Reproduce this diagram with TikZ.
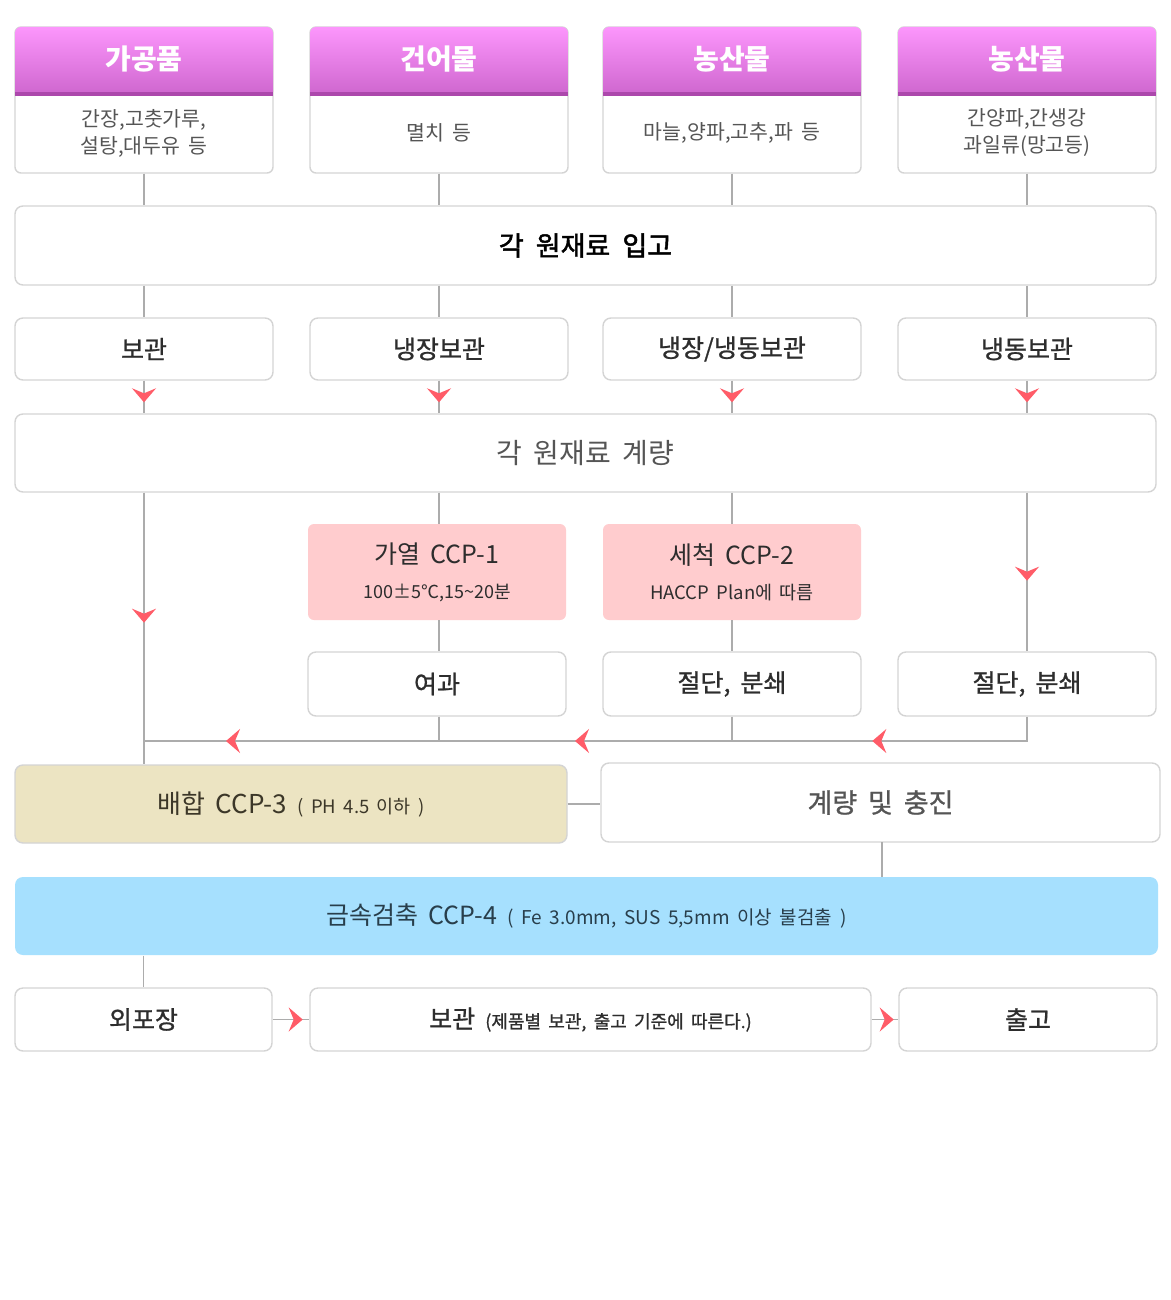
\documentclass[tikz,border=0pt]{standalone}
\usepackage{fontspec}
\setmainfont{Noto Sans CJK KR}[WordSpace=1.8]
\newfontfamily\medfont{Noto Sans CJK KR}[WordSpace=1.8,FakeBold=0.9]
\newfontfamily\semfont{Noto Sans CJK KR}[WordSpace=2.0,FakeBold=1.8]
\usetikzlibrary{arrows.meta,decorations.markings}
\definecolor{bordc}{RGB}{212,212,212}
\definecolor{linec}{RGB}{172,172,172}
\definecolor{arrred}{RGB}{255,92,104}
\definecolor{pinkc}{RGB}{255,204,206}
\definecolor{beigec}{RGB}{236,228,194}
\definecolor{bluec}{RGB}{166,224,254}
\definecolor{hdtop}{RGB}{252,150,252}
\definecolor{hdbot}{RGB}{208,104,208}
\definecolor{hdline}{RGB}{172,72,172}
\definecolor{txtd}{RGB}{45,45,45}
\definecolor{txtg}{RGB}{85,85,85}
\tikzset{
  tipR/.tip={Stealth[length=14pt,width=24pt,inset=5pt,color=arrred]},
  conn/.style={draw=linec,line width=1.3pt},
  arrat/.style={postaction={decorate},decoration={markings,mark=at position #1 with {\arrow{tipR}}}},
  card/.style={draw=bordc,line width=1.4pt,fill=white,rounded corners=6pt,inner sep=0pt},
  box/.style={draw=bordc,line width=1.4pt,fill=white,rounded corners=8pt,inner sep=0pt,align=center,text=txtd,font=\medfont\fontsize{25}{28}\selectfont},
  hdtxt/.style={text=white,font=\bfseries\fontsize{28}{30}\selectfont},
  bodytxt/.style={text=txtg,align=center,font=\fontsize{20.5}{27}\selectfont},
  ccpbox/.style={fill=pinkc,rounded corners=6pt,inner sep=0pt,align=center,text=txtd,minimum width=258pt,minimum height=96pt,font=\fontsize{25}{35}\selectfont},
}
\begin{document}
\begin{tikzpicture}[x=1pt,y=-1pt]
\useasboundingbox (0,0) rectangle (1170,1300);
\fill[white] (0,0) rectangle (1170,1300);

% header cards
\foreach \n/\cx in {1/144,2/439,3/732,4/1027}{
  \node[card,minimum width=258pt,minimum height=146pt] (c\n) at (\cx,100) {};
  \begin{scope}
    \clip[rounded corners=6pt] (\cx-129,27) rectangle (\cx+129,173);
    \shade[top color=hdtop,bottom color=hdbot] (\cx-129,27) rectangle (\cx+129,92);
    \fill[hdline] (\cx-129,92) rectangle (\cx+129,96);
  \end{scope}
}
\node[hdtxt] (h1) at (144,59) {가공품};
\node[hdtxt] (h2) at (439,59) {건어물};
\node[hdtxt] (h3) at (732,59) {농산물};
\node[hdtxt] (h4) at (1027,59) {농산물};
\node[bodytxt] (t1) at (144,133) {간장,고춧가루,\\설탕,대두유 등};
\node[bodytxt] (t2) at (439,133) {멸치 등};
\node[bodytxt] (t3) at (732,133) {마늘,양파,고추,파 등};
\node[bodytxt] (t4) at (1027,133) {간양파,간생강\\과일류(망고등)};

% 입고
\node[box,minimum width=1141pt,minimum height=79pt,font=\semfont\fontsize{27}{30}\selectfont,text=black] (in) at (585.5,245.5) {각 원재료 입고};

% storage row
\node[box,minimum width=258pt,minimum height=62pt] (r1) at (144,349) {보관};
\node[box,minimum width=258pt,minimum height=62pt] (r2) at (439,349) {냉장보관};
\node[box,minimum width=258pt,minimum height=62pt] (r3) at (732,349) {냉장/냉동보관};
\node[box,minimum width=258pt,minimum height=62pt] (r4) at (1027,349) {냉동보관};

% 계량
\node[box,minimum width=1141pt,minimum height=78pt,text=txtg,font=\fontsize{28}{30}\selectfont] (gy) at (585.5,453) {각 원재료 계량};

% CCP boxes
\node[ccpbox] (ccp1) at (437,572) {가열 CCP-1\\{\fontsize{18}{35}\selectfont 100±5℃,15\textasciitilde20분}};
\node[ccpbox] (ccp2) at (732,572) {세척 CCP-2\\{\fontsize{18.5}{35}\selectfont HACCP Plan에 따름}};

\node[box,minimum width=258pt,minimum height=64pt] (yg) at (437,684) {여과};
\node[box,minimum width=258pt,minimum height=64pt] (ct2) at (732,684) {절단, 분쇄};
\node[box,minimum width=258pt,minimum height=64pt] (ct4) at (1027,684) {절단, 분쇄};

% 배합 / 계량 및 충진
\node[box,font=\fontsize{26}{28}\selectfont,fill=beigec,minimum width=552pt,minimum height=78pt,text={rgb,255:red,60;green,55;blue,40}] (mix) at (291,804) {배합 CCP-3 {\fontsize{18.5}{20}\selectfont ( PH 4.5 이하 )}};
\node[box,minimum width=559pt,minimum height=79pt,text=txtg,font=\medfont\fontsize{27}{30}\selectfont] (fill) at (880.5,802.5) {계량 및 충진};

% 금속검출
\node[box,font=\fontsize{25}{28}\selectfont,draw=none,fill=bluec,minimum width=1143pt,minimum height=78pt,text={rgb,255:red,40;green,62;blue,75}] (metal) at (586.5,916) {금속검축 CCP-4 {\fontsize{19}{20}\selectfont ( Fe 3.0mm, SUS 5,5mm 이상 불검출 )}};

% bottom row
\node[box,minimum width=257pt,minimum height=63pt] (wp) at (143.5,1019.5) {외포장};
\node[box,minimum width=561pt,minimum height=63pt] (bg) at (590.5,1019.5) {보관 {\fontsize{18}{20}\selectfont (제품별 보관, 출고 기준에 따른다.)}};
\node[box,minimum width=258pt,minimum height=63pt] (out) at (1028,1019.5) {출고};

% junctions
\coordinate (j1) at (143,741);
\coordinate (j2) at (439,741);
\coordinate (j3) at (732,741);

% connectors
\foreach \n in {1,2,3,4}{
  \draw[conn] (c\n.south) -- (c\n.south |- in.north);
  \draw[conn] (c\n.south |- in.south) -- (r\n.north);
  \draw[conn,arrat=-11pt] (r\n.south) -- (r\n.south |- gy.north);
}
\draw[conn,arrat=130pt] (r1.south |- gy.south) -- (r1.south |- mix.north);
\draw[conn] (r2.south |- gy.south) -- (r2.south |- ccp1.north);
\draw[conn] (r3.south |- gy.south) -- (r3.south |- ccp2.north);
\draw[conn,arrat=88pt] (r4.south |- gy.south) -- (r4.south |- ct4.north);
\draw[conn] (r2.south |- ccp1.south) -- (r2.south |- yg.north);
\draw[conn] (r3.south |- ccp2.south) -- (r3.south |- ct2.north);
\draw[conn] (r2.south |- yg.south) -- (j2);
\draw[conn] (ct2.south) -- (j3);
\draw[conn,arrat=179pt] (ct4.south) |- (j3);
\draw[conn,arrat=157pt] (j3) -- (j2);
\draw[conn,arrat=213pt] (j2) -- (j1);
\draw[conn] (mix.east) -- (mix.east -| fill.west);
\draw[conn] (882,842) -- (882,877);
\draw[conn] (wp.north |- metal.south) -- (wp.north);
\draw[conn,arrat=30pt] (wp.east) -- (bg.west);
\draw[conn,arrat=22pt] (bg.east) -- (out.west);
\end{tikzpicture}
\end{document}
